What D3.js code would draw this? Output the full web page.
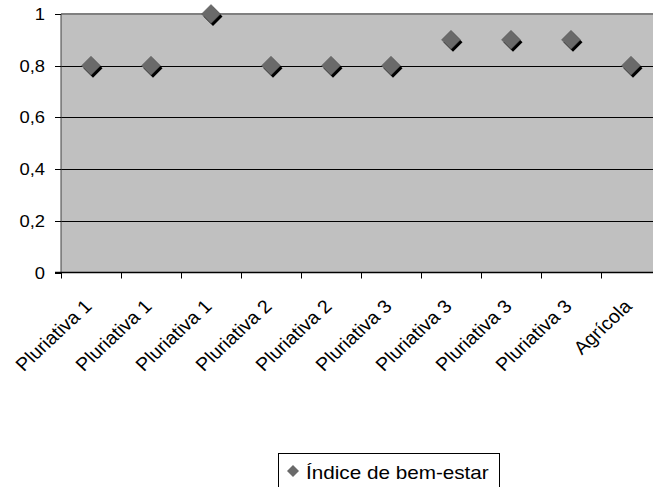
<!DOCTYPE html>
<html><head><meta charset="utf-8">
<script src="https://cdn.jsdelivr.net/npm/d3@7"></script>
<style>body{margin:0;background:#fff}svg{display:block}text{font-family:Arial,"Liberation Sans",sans-serif;fill:#000}</style>
</head><body>
<script>
const categories = ["Pluriativa 1","Pluriativa 1","Pluriativa 1","Pluriativa 2","Pluriativa 2","Pluriativa 3","Pluriativa 3","Pluriativa 3","Pluriativa 3","Agrícola"];
const values = [0.8,0.8,1,0.8,0.8,0.8,0.9,0.9,0.9,0.8];
const yTicks = [0,0.2,0.4,0.6,0.8,1];
const yTickLabels = ["0","0,2","0,4","0,6","0,8","1"];
const seriesName = "Índice de bem-estar";

const W=653,H=487, SX=1.15;
const svg=d3.select("body").append("svg").attr("width",W).attr("height",H);
const pL=61, pT=14, pR=661, pB=272.5;
const x=d3.scaleBand().domain(d3.range(categories.length)).range([pL,pR]);
const y=d3.scaleLinear().domain([0,1]).range([pB,pT]);

svg.append("rect").attr("x",pL).attr("y",pT).attr("width",pR-pL).attr("height",pB-pT).attr("fill","#c0c0c0");
// gridlines
svg.selectAll(".grid").data(yTicks.filter(d=>d>0&&d<1)).join("line")
  .attr("x1",pL).attr("x2",pR).attr("y1",d=>Math.round(y(d))+0.5).attr("y2",d=>Math.round(y(d))+0.5)
  .attr("stroke","#000").attr("stroke-width",1);
// top border
svg.append("line").attr("x1",pL).attr("x2",pR).attr("y1",pT).attr("y2",pT).attr("stroke","#808080").attr("stroke-width",2);

// y axis
const ya=svg.append("g").attr("transform",`translate(${pL},0)`);
ya.append("line").attr("x1",0).attr("x2",0).attr("y1",pT).attr("y2",pB).attr("stroke","#404040");
ya.selectAll("line.t").data(yTicks).join("line").attr("class","t")
  .attr("x1",-6).attr("x2",0).attr("y1",d=>Math.round(y(d))+0.5).attr("y2",d=>Math.round(y(d))+0.5).attr("stroke","#000");
ya.selectAll("text").data(yTicks).join("text")
  .attr("transform",d=>`translate(-16,${y(d)+6}) scale(${SX},1)`)
  .attr("text-anchor","end").attr("font-size",16).text((d,i)=>yTickLabels[i]);

// x axis
const xa=svg.append("g");
xa.append("line").attr("x1",pL-6).attr("x2",pR).attr("y1",pB).attr("y2",pB).attr("stroke","#000").attr("stroke-width",1.5);
xa.selectAll("line.t").data(d3.range(categories.length+1)).join("line").attr("class","t")
  .attr("x1",i=>Math.round(pL+i*x.step())+0.5).attr("x2",i=>Math.round(pL+i*x.step())+0.5)
  .attr("y1",pB).attr("y2",pB+6).attr("stroke","#000");
xa.selectAll("text").data(categories).join("text")
  .attr("transform",(d,i)=>`translate(${x(i)+x.bandwidth()/2+2},${pB+35}) scale(1.07,1) rotate(-45)`)
  .attr("text-anchor","end").attr("font-size",18.5).text(d=>d);

// markers
const diamond=(s)=>`M0,${-s}L${s},0L0,${s}L${-s},0Z`;
const pts=svg.append("g");
pts.selectAll("path.sh").data(values).join("path").attr("class","sh")
  .attr("transform",(d,i)=>`translate(${x(i)+x.bandwidth()/2+2},${y(d)+2.5})`)
  .attr("d",diamond(9.5)).attr("fill","#000");
pts.selectAll("path.m").data(values).join("path").attr("class","m")
  .attr("transform",(d,i)=>`translate(${x(i)+x.bandwidth()/2},${y(d)})`)
  .attr("d",diamond(9.5)).attr("fill","#6a6a6a").attr("stroke","#555").attr("stroke-width",0.5);

// legend
const lg=svg.append("g");
lg.append("rect").attr("x",278.5).attr("y",453.5).attr("width",221).attr("height",40).attr("fill","#fff").attr("stroke","#000");
lg.append("path").attr("transform","translate(293,471)").attr("d",diamond(6)).attr("fill","#6a6a6a");
lg.append("text").attr("transform","translate(306,479) scale(1.15,1)").attr("font-size",18).text(seriesName);
</script>
</body></html>
